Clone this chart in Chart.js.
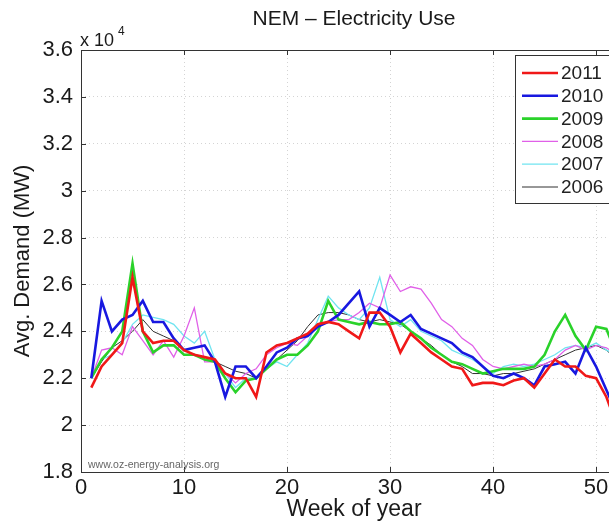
<!DOCTYPE html>
<html>
<head>
<meta charset="utf-8">
<script src="https://cdn.jsdelivr.net/npm/chart.js@4.4.1/dist/chart.umd.min.js"></script>
<style>
  html, body { margin:0; padding:0; background:#fff; overflow:hidden; }
  canvas { display:block; }
</style>
</head>
<body>
<canvas id="chart" width="640" height="525"></canvas>
<script>
// weekly average demand, in units of 10^4 MW
const weeks = Array.from({length:52}, (_, i) => i + 1);
const years = ['2011','2010','2009','2008','2007','2006'];

const d2011 = [2.16,2.25,2.30,2.35,2.63,2.40,2.35,2.36,2.36,2.32,2.30,2.29,2.28,2.22,2.20,2.20,2.12,2.31,2.34,2.35,
  2.37,2.39,2.43,2.44,2.43,2.40,2.37,2.48,2.48,2.42,2.31,2.39,2.35,2.31,2.28,2.25,2.24,2.17,2.18,2.18,
  2.17,2.19,2.20,2.16,2.22,2.28,2.25,2.25,2.21,2.20,2.12,2.00];
const d2010 = [2.20,2.53,2.40,2.45,2.47,2.53,2.44,2.44,2.37,2.32,2.33,2.34,2.27,2.12,2.25,2.25,2.20,2.25,2.31,2.33,
  2.37,2.38,2.42,2.44,2.47,2.52,2.57,2.42,2.50,2.47,2.44,2.47,2.41,2.39,2.37,2.35,2.31,2.29,2.25,2.21,
  2.20,2.22,2.20,2.17,2.25,2.26,2.27,2.22,2.33,2.25,2.15,2.05];
const d2009 = [2.20,2.28,2.33,2.40,2.69,2.40,2.31,2.34,2.34,2.30,2.30,2.28,2.27,2.20,2.14,2.19,2.20,2.24,2.28,2.30,
  2.30,2.34,2.40,2.53,2.45,2.44,2.43,2.44,2.43,2.43,2.44,2.40,2.37,2.33,2.30,2.27,2.26,2.24,2.22,2.23,
  2.24,2.24,2.24,2.25,2.30,2.40,2.47,2.38,2.32,2.42,2.41,2.30];
const d2008 = [2.20,2.32,2.33,2.30,2.42,2.36,2.30,2.36,2.29,2.38,2.50,2.27,2.27,2.22,2.18,2.22,2.24,2.30,2.33,2.35,
  2.34,2.38,2.43,2.44,2.45,2.45,2.48,2.52,2.50,2.64,2.57,2.59,2.58,2.52,2.45,2.42,2.37,2.34,2.28,2.25,
  2.24,2.25,2.26,2.25,2.26,2.28,2.32,2.34,2.32,2.34,2.33,2.30];
const d2007 = [2.20,2.28,2.30,2.35,2.43,2.47,2.46,2.45,2.43,2.38,2.35,2.40,2.28,2.22,2.16,2.20,2.20,2.24,2.27,2.25,
  2.30,2.35,2.45,2.55,2.50,2.47,2.45,2.50,2.63,2.45,2.42,2.45,2.40,2.38,2.36,2.32,2.30,2.28,2.25,2.22,
  2.25,2.26,2.25,2.26,2.28,2.30,2.33,2.34,2.33,2.35,2.32,2.30];
const d2006 = [2.20,2.27,2.33,2.36,2.40,2.45,2.40,2.38,2.36,2.32,2.30,2.28,2.27,2.25,2.23,2.22,2.20,2.24,2.28,2.32,
  2.36,2.42,2.47,2.48,2.48,2.47,2.45,2.44,2.45,2.44,2.43,2.40,2.37,2.34,2.30,2.27,2.25,2.22,2.22,2.21,
  2.22,2.22,2.23,2.24,2.26,2.28,2.30,2.32,2.33,2.34,2.32,2.28];

const series = [d2011, d2010, d2009, d2008, d2007, d2006];
const colors = ['#f01818','#1818e0','#2ad22a','#e060e8','#70e4f0','#303030'];
const widths = [2.6, 2.6, 2.6, 1.3, 1.3, 1];

const FONT = '"Liberation Sans", Arial, Helvetica, sans-serif';
const INK = '#1a1a1a';

// matlab-like frame, inward ticks, legend, title and notes
const decor = {
  id:'decor',
  afterDraw(c){
    const g = c.ctx, a = c.chartArea, xs = c.scales.x, ys = c.scales.y;
    g.save();
    g.strokeStyle = '#333'; g.lineWidth = 1;
    g.strokeRect(a.left + .5, a.top + .5, a.right - a.left, a.bottom - a.top);
    g.beginPath();
    xs.ticks.forEach(t=>{
      const px = Math.round(xs.getPixelForValue(t.value)) + .5;
      g.moveTo(px, a.bottom); g.lineTo(px, a.bottom - 5);
      g.moveTo(px, a.top); g.lineTo(px, a.top + 5);
    });
    ys.ticks.forEach(t=>{
      const py = Math.round(ys.getPixelForValue(t.value)) + .5;
      g.moveTo(a.left, py); g.lineTo(a.left + 5, py);
      g.moveTo(a.right, py); g.lineTo(a.right - 5, py);
    });
    g.stroke();

    // title
    g.fillStyle = INK;
    g.textAlign = 'center'; g.textBaseline = 'middle';
    g.font = '21px ' + FONT;
    g.fillText('NEM \u2013 Electricity Use', (a.left + a.right) / 2, 19);

    // exponent
    g.textAlign = 'left'; g.textBaseline = 'alphabetic';
    g.font = '18px ' + FONT;
    g.fillText('x 10', 80, 46);
    g.font = '12px ' + FONT;
    g.fillText('4', 118, 35);

    // watermark
    g.fillStyle = '#666';
    g.font = '10.5px ' + FONT;
    g.fillText('www.oz-energy-analysis.org', 88, 468);

    // legend
    const lx = 515, ly = 55, lw = 112, lh = 148, step = 22.8;
    g.fillStyle = '#fff';
    g.fillRect(lx, ly, lw, lh);
    g.strokeStyle = '#333'; g.lineWidth = 1;
    g.strokeRect(lx + .5, ly + .5, lw, lh);
    g.font = '19px ' + FONT;
    g.textBaseline = 'middle';
    c.data.datasets.forEach((ds, i)=>{
      const y = 73 + i * step;
      g.strokeStyle = ds.borderColor; g.lineWidth = ds.borderWidth;
      g.beginPath(); g.moveTo(522, y); g.lineTo(558, y); g.stroke();
      g.fillStyle = '#222';
      g.fillText(ds.label, 561, y + 1);
    });
    g.restore();
  }
};

new Chart(document.getElementById('chart'), {
  type:'line',
  data:{
    datasets: years.map((yr, i)=>({
      label: yr,
      data: weeks.map((w, k)=>({ x:w, y:series[i][k] })),
      borderColor: colors[i],
      borderWidth: widths[i],
      pointRadius: 0,
      tension: 0,
      fill: false
    }))
  },
  options:{
    responsive:false,
    animation:false,
    layout:{ padding:{ left:0, top:50, right:13, bottom:0 } },
    plugins:{ legend:{ display:false }, tooltip:{ enabled:false } },
    scales:{
      x:{
        type:'linear', min:0, max:53,
        afterFit(s){ s.height = 53; },
        ticks:{ stepSize:10, includeBounds:false, padding:3, color:INK, font:{ family:FONT, size:22 } },
        grid:{ color:'#d4d4d4', drawTicks:false },
        border:{ display:false, dash:[1,3] },
        title:{ display:true, text:'Week of year', color:INK, font:{ family:FONT, size:23 }, padding:{ top:0, bottom:2 } }
      },
      y:{
        min:1.8, max:3.6,
        afterFit(s){ s.width = 81; },
        ticks:{ stepSize:0.2, padding:8, color:INK, font:{ family:FONT, size:22 },
          callback: v => String(+v.toFixed(1)) },
        grid:{ color:'#d4d4d4', drawTicks:false },
        border:{ display:false, dash:[1,3] },
        title:{ display:true, text:'Avg. Demand (MW)', color:INK, font:{ family:FONT, size:22 }, padding:{ top:10, bottom:0 } }
      }
    }
  },
  plugins:[decor]
});
</script>
</body>
</html>
